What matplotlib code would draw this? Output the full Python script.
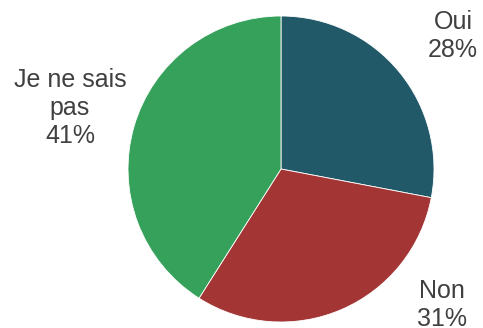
import matplotlib.pyplot as plt

labels = ["Oui", "Non", "Je ne sais\npas"]
values = [28, 31, 41]
colors = ["#225968", "#A33535", "#35A15A"]
label_pos = [(453, 292), (442, 23), (70, 220)]

fig = plt.figure(figsize=(4.83, 3.28), dpi=100)
ax = fig.add_axes([0, 0, 1, 1])
ax.set_xlim(0, 483)
ax.set_ylim(0, 328)
ax.set_aspect("equal")
ax.axis("off")

ax.pie(values, colors=colors, startangle=90, counterclock=False,
       center=(281, 159), radius=153, frame=True,
       wedgeprops=dict(edgecolor="white", linewidth=0.6))
ax.set_xlim(0, 483)
ax.set_ylim(0, 328)
ax.axis("off")

total = sum(values)
for lab, v, (x, y) in zip(labels, values, label_pos):
    ax.text(x, y, f"{lab}\n{round(100 * v / total)}%", ha="center", va="center",
            fontsize=18, color="#404040", family="Liberation Sans",
            linespacing=1.2)

fig.savefig("out.png", dpi=100)
